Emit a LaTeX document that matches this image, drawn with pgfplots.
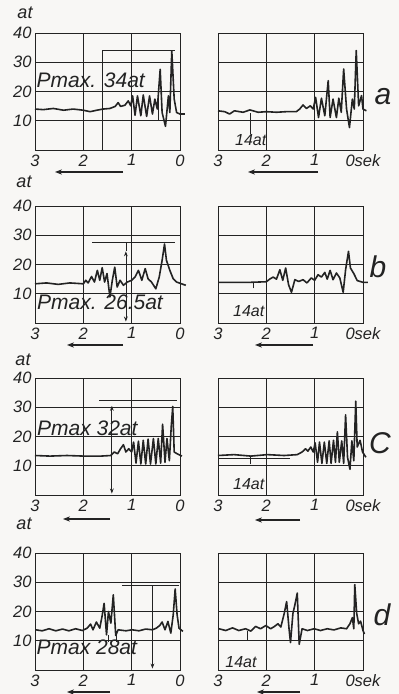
\documentclass[border=0pt]{standalone}
\usepackage{fontspec}
\setmainfont{Liberation Sans}
\usepackage{pgfplots}
\pgfplotsset{compat=1.18}
\usetikzlibrary{arrows.meta}
\definecolor{paper}{RGB}{248,247,245}
\definecolor{ink}{RGB}{35,35,35}
\tikzset{ann/.style={draw=ink, line width=0.7pt, mark=none}}
\pgfplotsset{
 panel/.style={scale only axis, width=145pt, height=117pt, xmin=0, xmax=3, x dir=reverse,
   ymin=0, ymax=40, xtick={0,1,2,3}, ytick={10,20,30,40}, grid=major,
   major grid style={ink, line width=0.75pt}, axis line style={ink, line width=0.85pt},
   major tick length=0pt, clip=false, anchor=south west,
   /pgf/number format/assume math mode=true,
   ticklabel style={font=\fontsize{16.5}{16.5}\selectfont\itshape, text=ink},
   xticklabel style={yshift=-1pt}},
 leftpanel/.style={panel, xticklabels={0,1,2,3}},
 rightpanel/.style={panel, yticklabels={}, xticklabels={0sek,1,2,3}},
 curve/.style={ink, line width=1.6pt, line join=round, mark=none},
}
\newcommand{\pmaxfont}{\fontsize{21}{21}\selectfont\itshape}
\newcommand{\refatfont}{\fontsize{16}{16}\selectfont\itshape}
\begin{document}
\begin{tikzpicture}
\fill[paper] (0,0) rectangle (399pt,694pt);
\useasboundingbox (0,0) rectangle (399pt,694pt);
% ---------------- row a ----------------
\begin{axis}[leftpanel, at={(35pt,544pt)}]
\addplot[curve] coordinates {(3.0,14.0)(2.83,13.8)(2.62,14.2)(2.41,13.6)(2.21,14.0)(2.0,13.6)(1.86,13.1)(1.72,13.6)(1.59,14.0)(1.45,14.2)(1.34,14.9)(1.28,16.2)(1.23,14.9)(1.14,15.3)(1.07,16.8)(1.02,15.1)(0.98,18.5)(0.93,11.9)(0.88,18.5)(0.81,11.7)(0.76,18.8)(0.69,11.5)(0.63,18.5)(0.57,12.3)(0.52,17.4)(0.47,14.0)(0.41,27.6)(0.37,12.8)(0.30,8.1)(0.24,18.5)(0.21,12.8)(0.17,33.9)(0.12,17.4)(0.07,12.8)(0.0,12.3)(-0.1,12.3)};
\addplot[ann] coordinates {(1.61,0)(1.61,34)(0.1,34)};
\addplot[ann] coordinates {(0.45,10)(0.45,20)};
\node[anchor=base west, font=\pmaxfont, text=ink, inner sep=0] at (axis cs:2.97,21.3) {Pmax. 34at};
\end{axis}
\begin{axis}[rightpanel, at={(218pt,544pt)}]
\addplot[curve] coordinates {(3.0,13.4)(2.86,13.1)(2.76,12.3)(2.66,13.4)(2.48,12.9)(2.34,13.7)(2.17,12.9)(2.0,13.1)(1.79,12.9)(1.59,13.1)(1.38,13.1)(1.31,14.0)(1.24,15.4)(1.17,14.2)(1.09,15.1)(1.03,14.0)(0.98,18.0)(0.92,11.1)(0.86,17.7)(0.79,11.7)(0.72,23.7)(0.68,11.1)(0.62,17.4)(0.55,11.1)(0.50,17.7)(0.45,12.9)(0.40,27.7)(0.34,14.0)(0.28,7.7)(0.22,17.4)(0.18,14.0)(0.14,34.0)(0.09,15.1)(0.03,18.6)(0.0,14.0)(-0.07,13.4)};
\addplot[ann] coordinates {(2.34,5.5)(2.34,12.5)};
\node[anchor=base west, font=\refatfont, text=ink, inner sep=0] at (axis cs:2.65,1.6) {14at};
\end{axis}
% ---------------- row b ----------------
\begin{axis}[leftpanel, at={(35pt,371pt)}]
\addplot[curve] coordinates {(3.0,13.4)(2.76,13.7)(2.52,13.2)(2.28,13.7)(2.0,13.4)(1.95,14.6)(1.9,13.7)(1.83,15.9)(1.77,14.0)(1.71,18.0)(1.66,14.6)(1.61,18.9)(1.56,14.0)(1.51,16.9)(1.45,8.9)(1.40,14.6)(1.35,19.1)(1.30,12.3)(1.24,14.6)(1.17,12.9)(1.09,14.0)(1.0,14.6)(0.93,15.7)(0.86,18.0)(0.79,14.6)(0.72,18.6)(0.66,15.1)(0.59,14.0)(0.50,11.7)(0.43,15.7)(0.37,21.4)(0.32,27.0)(0.28,21.4)(0.21,18.0)(0.14,15.1)(0.07,14.0)(-0.03,13.4)(-0.12,12.9)};
\addplot[ann] coordinates {(1.82,27.5)(0.1,27.5)};
\draw[ann, {Stealth[length=5pt]}-{Stealth[length=5pt]}] (axis cs:1.12,24.5) -- (axis cs:1.12,0.5);
\draw[ann] (axis cs:1.12,27.5) -- (axis cs:1.12,24.5);
\node[anchor=base west, font=\pmaxfont, text=ink, inner sep=0] at (axis cs:2.96,4.6) {Pmax. 26.5at};
\end{axis}
\begin{axis}[rightpanel, at={(218pt,371pt)}]
\addplot[curve] coordinates {(3.0,13.9)(2.69,13.9)(2.34,13.9)(2.0,14.1)(1.93,15.0)(1.86,15.7)(1.79,15.0)(1.72,18.2)(1.66,14.6)(1.60,18.8)(1.54,13.1)(1.48,10.5)(1.41,14.8)(1.33,14.2)(1.24,14.8)(1.16,13.7)(1.07,15.4)(1.0,14.6)(0.93,16.5)(0.86,15.7)(0.79,17.3)(0.74,15.0)(0.68,18.0)(0.62,14.8)(0.55,17.1)(0.48,15.4)(0.41,10.5)(0.36,18.2)(0.30,24.5)(0.26,18.8)(0.19,16.9)(0.12,14.5)(0.0,13.9)(-0.1,13.9)};
\addplot[ann] coordinates {(2.27,11.8)(2.27,13.9)};
\node[anchor=base west, font=\refatfont, text=ink, inner sep=0] at (axis cs:2.69,2.3) {14at};
\end{axis}
% ---------------- row c ----------------
\begin{axis}[leftpanel, at={(35pt,199pt)}]
\addplot[curve] coordinates {(3.0,13.5)(2.69,13.3)(2.34,13.5)(1.99,13.3)(1.64,13.3)(1.43,13.5)(1.36,14.7)(1.29,14.1)(1.23,15.8)(1.17,17.2)(1.12,14.7)(1.06,15.8)(1.0,14.7)(0.96,18.1)(0.91,10.9)(0.86,18.4)(0.81,10.6)(0.76,18.7)(0.71,10.6)(0.66,19.1)(0.61,10.6)(0.55,19.3)(0.50,10.6)(0.45,19.3)(0.40,10.9)(0.36,24.2)(0.31,11.2)(0.27,19.3)(0.22,11.7)(0.18,23.7)(0.15,30.3)(0.12,14.7)(0.06,14.1)(-0.04,13.3)};
\addplot[ann] coordinates {(1.67,32.3)(0.06,32.3)};
\draw[ann, {Stealth[length=5pt]}-{Stealth[length=5pt]}] (axis cs:1.41,30.5) -- (axis cs:1.41,0.5);
\node[anchor=base west, font=\pmaxfont, text=ink, inner sep=0] at (axis cs:2.96,20.3) {Pmax 32at};
\end{axis}
\begin{axis}[rightpanel, at={(218pt,199pt)}]
\addplot[curve] coordinates {(3.0,13.5)(2.67,13.8)(2.32,13.3)(1.98,13.8)(1.63,13.5)(1.36,13.8)(1.26,14.7)(1.19,15.8)(1.14,15.0)(1.08,16.4)(1.03,14.7)(0.99,17.8)(0.94,11.2)(0.90,18.1)(0.85,10.8)(0.80,18.1)(0.75,10.8)(0.70,18.5)(0.66,10.8)(0.61,18.7)(0.57,11.2)(0.53,21.6)(0.49,11.2)(0.44,18.5)(0.40,10.8)(0.36,27.4)(0.32,12.9)(0.27,8.8)(0.23,18.5)(0.19,11.7)(0.15,32.1)(0.12,16.4)(0.06,18.7)(0.01,14.7)(-0.06,12.9)};
\addplot[ann] coordinates {(3.0,12.4)(1.5,12.4)};
\addplot[ann] coordinates {(2.34,10.5)(2.34,13.5)};
\node[anchor=base west, font=\refatfont, text=ink, inner sep=0] at (axis cs:2.69,2.0) {14at};
\end{axis}
% ---------------- row d ----------------
\begin{axis}[leftpanel, at={(35pt,24pt)}]
\addplot[curve] coordinates {(2.99,13.75)(2.85,13.4)(2.71,14.1)(2.57,13.4)(2.43,14.0)(2.30,13.4)(2.16,14.1)(2.02,13.5)(1.92,14.3)(1.85,15.7)(1.80,13.75)(1.73,16.4)(1.66,14.3)(1.61,18.6)(1.57,22.8)(1.52,12.0)(1.48,20.0)(1.43,16.0)(1.38,25.7)(1.33,11.8)(1.28,13.75)(1.12,13.4)(0.99,13.75)(0.85,13.4)(0.71,14.0)(0.57,13.75)(0.49,14.3)(0.42,15.2)(0.37,16.4)(0.31,13.75)(0.25,16.6)(0.19,12.6)(0.14,18.9)(0.10,27.7)(0.06,18.9)(0.02,14.3)(-0.06,13.2)};
\addplot[ann] coordinates {(1.19,29.0)(0.02,29.0)};
\draw[ann, -{Stealth[length=5pt]}] (axis cs:0.57,29.0) -- (axis cs:0.57,0.5);
\addplot[ann] coordinates {(1.48,9.5)(1.48,12)};
\addplot[ann] coordinates {(1.31,9.5)(1.31,12)};
\node[anchor=base west, font=\pmaxfont, text=ink, inner sep=0] at (axis cs:2.97,5.3) {Pmax 28at};
\end{axis}
\begin{axis}[rightpanel, at={(218pt,24pt)}]
\addplot[curve] coordinates {(2.98,14.1)(2.84,13.5)(2.70,14.4)(2.57,13.5)(2.43,14.1)(2.32,13.3)(2.22,14.9)(2.12,14.1)(2.01,15.2)(1.91,14.1)(1.83,14.9)(1.76,15.8)(1.70,14.7)(1.63,19.3)(1.58,23.4)(1.53,14.1)(1.50,9.4)(1.45,19.3)(1.41,22.2)(1.36,26.3)(1.32,8.8)(1.26,14.1)(1.15,13.5)(1.01,14.1)(0.88,13.5)(0.74,14.1)(0.60,13.7)(0.46,14.4)(0.34,14.1)(0.27,15.8)(0.22,17.9)(0.19,14.1)(0.17,29.2)(0.13,19.3)(0.09,15.8)(0.05,16.7)(0.0,13.5)(-0.03,12.3)};
\addplot[ann] coordinates {(2.4,10)(2.4,13.5)};
\node[anchor=base west, font=\refatfont, text=ink, inner sep=0] at (axis cs:2.85,1.0) {14at};
\end{axis}
% ---------------- labels ----------------
\node[font=\fontsize{18}{18}\selectfont\itshape, text=ink, inner sep=0] at (25pt,681pt) {at};
\node[font=\fontsize{18}{18}\selectfont\itshape, text=ink, inner sep=0] at (24pt,512pt) {at};
\node[font=\fontsize{18}{18}\selectfont\itshape, text=ink, inner sep=0] at (23pt,334pt) {at};
\node[font=\fontsize{18}{18}\selectfont\itshape, text=ink, inner sep=0] at (24pt,170pt) {at};
\node[font=\fontsize{30}{30}\selectfont\itshape, text=ink] at (383pt,597pt) {a};
\node[font=\fontsize{30}{30}\selectfont\itshape, text=ink] at (378pt,427pt) {b};
\node[font=\fontsize{30}{30}\selectfont\itshape, text=ink] at (380pt,251pt) {C};
\node[font=\fontsize{30}{30}\selectfont\itshape, text=ink] at (382pt,79pt) {d};
% direction arrows
\draw[ink, line width=1.3pt, -{Stealth[length=7pt]}] (123pt,522pt) -- (55pt,522pt);
\draw[ink, line width=1.3pt, -{Stealth[length=7pt]}] (318pt,522pt) -- (248pt,522pt);
\draw[ink, line width=1.3pt, -{Stealth[length=7pt]}] (123pt,349pt) -- (67pt,349pt);
\draw[ink, line width=1.3pt, -{Stealth[length=7pt]}] (313pt,349pt) -- (255pt,349pt);
\draw[ink, line width=1.3pt, -{Stealth[length=7pt]}] (110pt,175pt) -- (63pt,175pt);
\draw[ink, line width=1.3pt, -{Stealth[length=7pt]}] (300pt,174pt) -- (255pt,174pt);
\draw[ink, line width=1.3pt, -{Stealth[length=7pt]}] (110pt,2pt) -- (67pt,2pt);
\draw[ink, line width=1.3pt, -{Stealth[length=7pt]}] (300pt,2pt) -- (257pt,2pt);
\end{tikzpicture}
\end{document}
